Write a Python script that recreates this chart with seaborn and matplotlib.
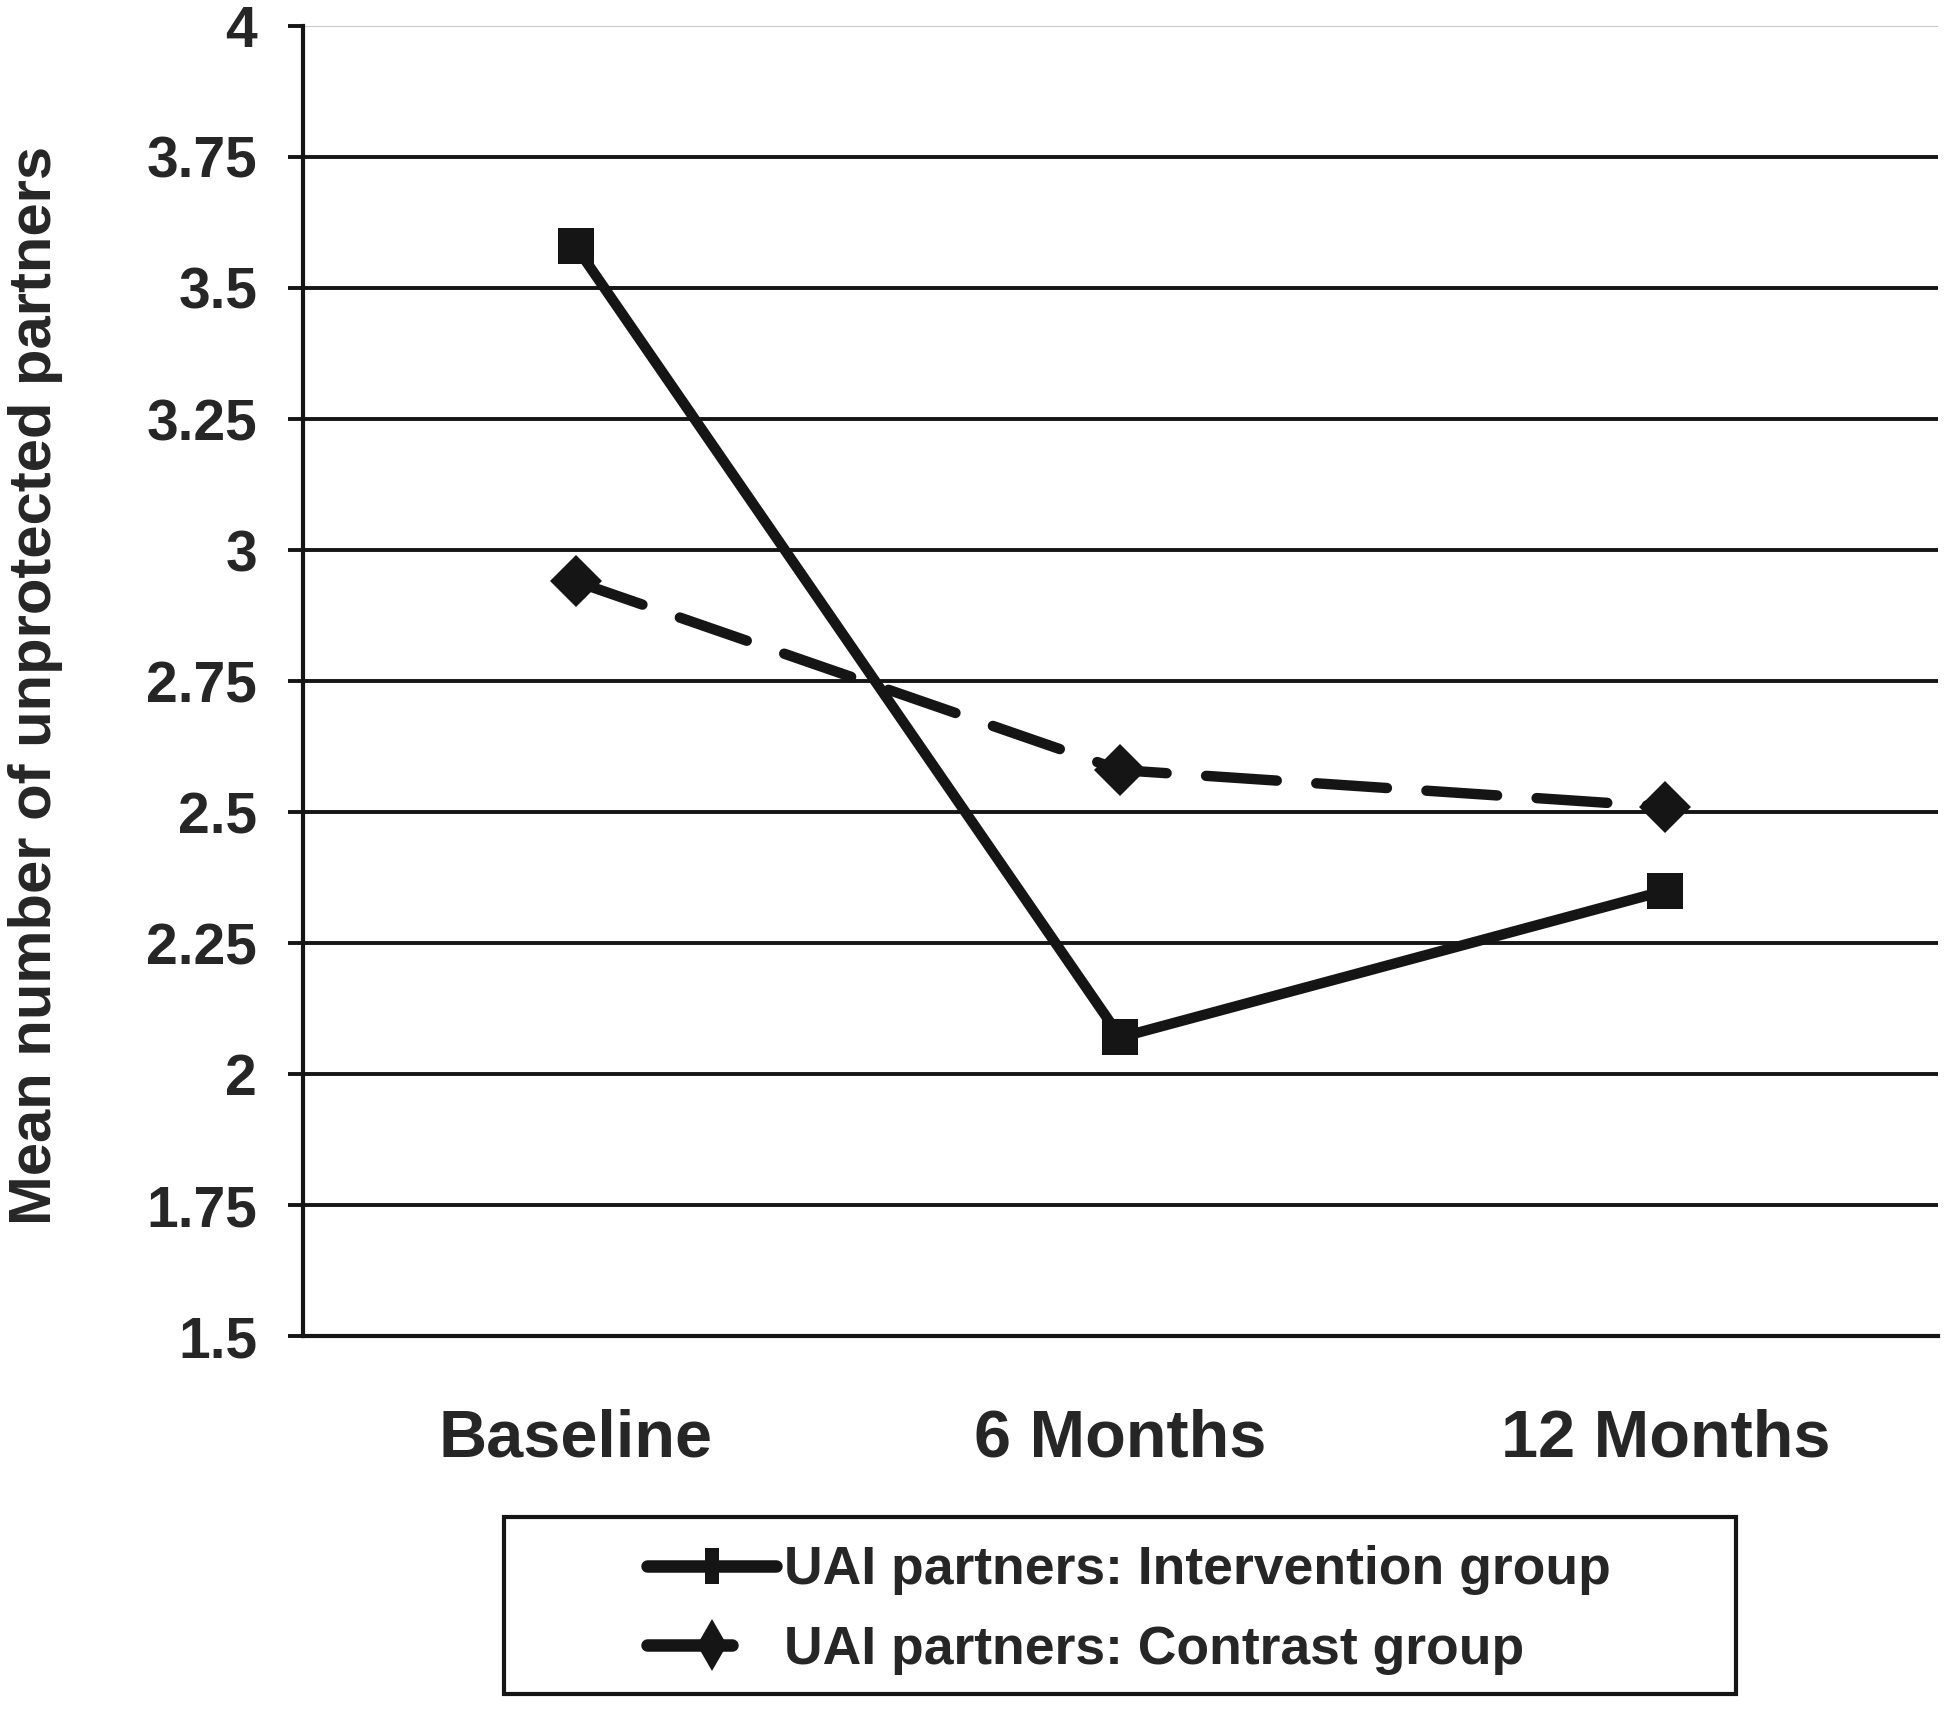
import numpy as np
import pandas as pd
import matplotlib.pyplot as plt
import seaborn as sns
from matplotlib.lines import Line2D
from matplotlib.patches import Rectangle

#%% datos
momentos = ['Baseline', '6 Months', '12 Months']
intervencion = [3.58, 2.07, 2.35]
contraste = [2.94, 2.58, 2.51]
grupos = ['UAI partners: Intervention group', 'UAI partners: Contrast group']
yticks = [1.5, 1.75, 2, 2.25, 2.5, 2.75, 3, 3.25, 3.5, 3.75, 4]
ytick_labels = ['1.5', '1.75', '2', '2.25', '2.5', '2.75', '3', '3.25', '3.5', '3.75', '4']

df = pd.DataFrame({'momento': momentos * 2,
                   'valor': intervencion + contraste,
                   'grupo': [grupos[0]] * 3 + [grupos[1]] * 3})

#%%
sns.set_style('white')
plt.rcParams['font.family'] = ['Liberation Sans', 'DejaVu Sans']
plt.rcParams['font.weight'] = 'bold'
negro = '#151515'
guiones = (6.8, 3.8)

fig = plt.figure(figsize=(19.5, 17.1), dpi=100)
ax = fig.add_axes([0.1554, 0.2187, 0.8384, 0.7661])

sns.lineplot(data=df, x='momento', y='valor', hue='grupo', style='grupo',
             palette={grupos[0]: negro, grupos[1]: negro},
             markers={grupos[0]: 's', grupos[1]: 'D'},
             dashes={grupos[0]: '', grupos[1]: guiones},
             markersize=26, linewidth=7.5, legend=False, ax=ax, sort=False)
for ln in ax.lines:
    ln.set_markeredgewidth(0)
    ln.set_dash_capstyle('round')
    ln.set_solid_capstyle('round')

ax.set_xlim(-0.5, 2.5)
ax.set_ylim(1.5, 4)
ax.set_yticks(yticks)
ax.set_yticklabels(ytick_labels)
ax.set_xticks([0, 1, 2])
ax.set_xticklabels(momentos)
ax.set_xticks([-0.5, 0.5, 1.5, 2.5], minor=True)
ax.tick_params(axis='x', which='major', length=0, labelsize=48, pad=52)
ax.tick_params(axis='x', which='minor', length=11, width=2.8, direction='out', color=negro)
ax.tick_params(axis='y', length=11, width=2.8, direction='out', color=negro,
               labelsize=41, pad=22, left=True)
ax.set_xlabel('')
ax.set_ylabel('Mean number of unprotected partners', fontsize=43, fontweight='bold')
ax.yaxis.set_label_coords(-0.147, 0.497)

ax.yaxis.grid(True, color=negro, linewidth=2.8)
ax.get_ygridlines()[-1].set_color('#bbbbbb')
ax.get_ygridlines()[-1].set_linewidth(1.2)
ax.set_axisbelow(True)

for s in ['top', 'right']:
    ax.spines[s].set_visible(False)
for s in ['left', 'bottom']:
    ax.spines[s].set_color(negro)
    ax.spines[s].set_linewidth(3)

# leyenda con marco aparte
rect_marker = [(-0.2, -0.5), (0.2, -0.5), (0.2, 0.5), (-0.2, 0.5), (-0.2, -0.5)]
handles = [Line2D([], [], color=negro, lw=9, marker=rect_marker, markersize=26,
                  markeredgewidth=0, solid_capstyle='round'),
           Line2D([], [], color=negro, lw=9, marker='d', markersize=26,
                  markeredgewidth=0, dashes=guiones, dash_capstyle='round')]
leg = fig.legend(handles, grupos, loc='center left', bbox_to_anchor=(0.332, 0.0585),
                 fontsize=38.5, frameon=False, handlelength=2.4, handletextpad=0.15,
                 borderpad=0, labelspacing=0.55, borderaxespad=0)
fig.patches.append(Rectangle((0.2583, 0.0095), 0.632, 0.1032, transform=fig.transFigure,
                             fill=False, edgecolor=negro, linewidth=3))

plt.savefig('out.png', format='png', dpi=100)
